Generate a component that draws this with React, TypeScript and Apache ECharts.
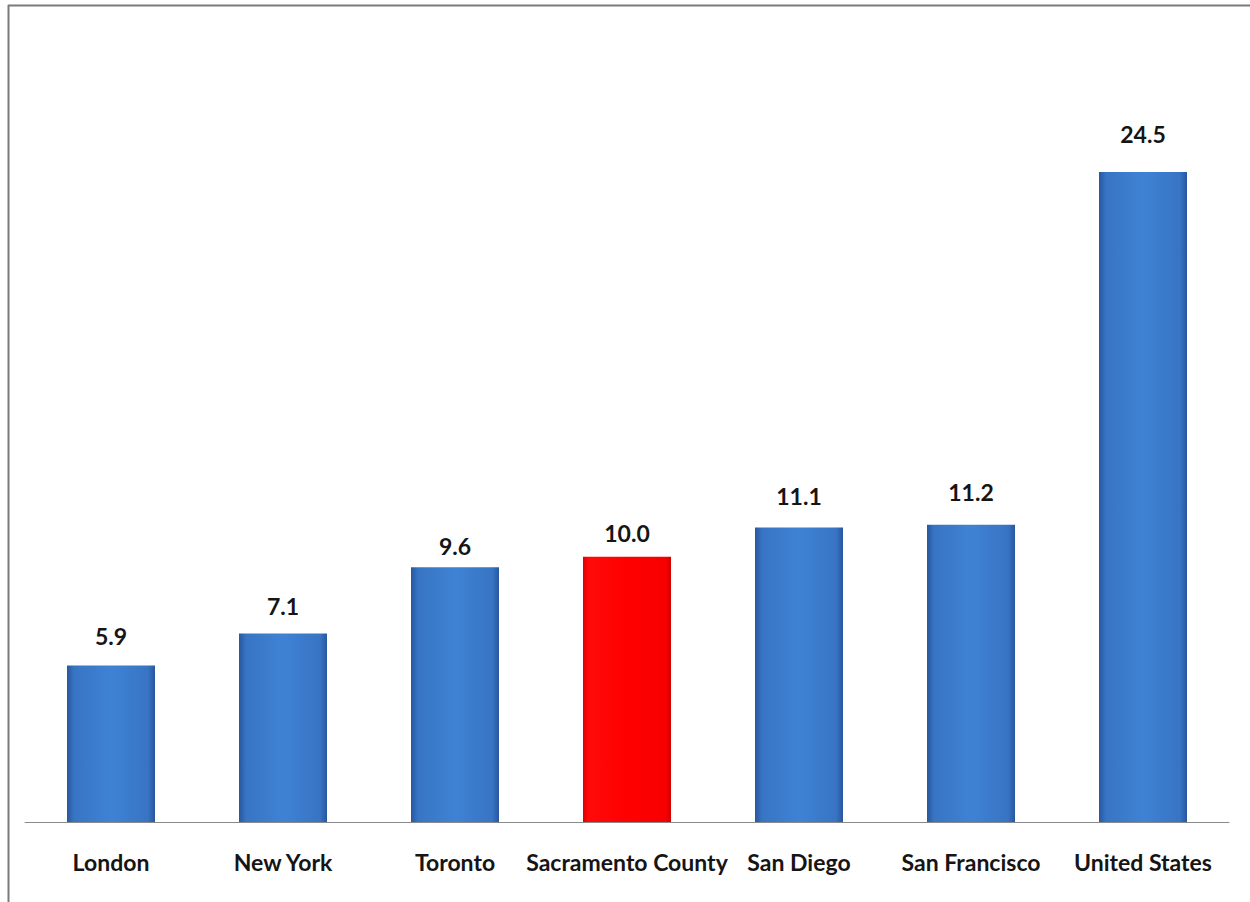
import React, { useEffect, useRef } from "react";
import * as echarts from "echarts";

const categories = ["London", "New York", "Toronto", "Sacramento County", "San Diego", "San Francisco", "United States"];
const values = [5.9, 7.1, 9.6, 10.0, 11.1, 11.2, 24.5];
const highlightCategory = "Sacramento County";

// layout only: gap (px) between each bar top and its value label, as placed in the original
const labelGaps = [18, 16, 10, 12, 20, 21, 26];

const blueFill = new echarts.graphic.LinearGradient(0, 0, 1, 0, [
  { offset: 0, color: "#28579f" },
  { offset: 0.08, color: "#3874c4" },
  { offset: 0.5, color: "#3f82d4" },
  { offset: 0.92, color: "#3874c4" },
  { offset: 1, color: "#28579f" },
]);
const redFill = new echarts.graphic.LinearGradient(0, 0, 1, 0, [
  { offset: 0, color: "#e00000" },
  { offset: 0.06, color: "#ff0a0a" },
  { offset: 0.5, color: "#ff0000" },
  { offset: 0.94, color: "#f80000" },
  { offset: 1, color: "#d00000" },
]);

export default function App() {
  const ref = useRef<HTMLDivElement>(null);
  useEffect(() => {
    if (!ref.current) return;
    const chart = echarts.init(ref.current, undefined, { renderer: "svg" });
    chart.setOption({
      animation: false,
      backgroundColor: "#ffffff",
      grid: { left: 25, right: 21, top: 26, bottom: 80 },
      xAxis: {
        type: "category",
        data: categories,
        axisLine: { show: true, lineStyle: { color: "#8a8a8a", width: 1 } },
        axisTick: { show: false },
        axisLabel: {
          interval: 0,
          margin: 28,
          fontFamily: "Lato",
          fontWeight: "bold",
          fontSize: 23,
          color: "#151515",
        },
      },
      yAxis: { type: "value", min: 0, max: 30, show: false, splitLine: { show: false } },
      series: [
        {
          type: "bar",
          barWidth: 88,
          data: values.map((v, i) => ({
            value: v,
            itemStyle: { color: categories[i] === highlightCategory ? redFill : blueFill },
            label: { distance: labelGaps[i] },
          })),
          label: {
            show: true,
            position: "top",
            formatter: (p: any) => Number(p.value).toFixed(1),
            fontFamily: "Lato",
            fontWeight: "bold",
            fontSize: 23,
            color: "#151515",
          },
        },
      ],
      graphic: [
        { type: "line", shape: { x1: 8, y1: 5.5, x2: 1250, y2: 5.5 }, style: { stroke: "#7a7a7a", lineWidth: 2 } },
        { type: "line", shape: { x1: 8.5, y1: 5, x2: 8.5, y2: 902 }, style: { stroke: "#7a7a7a", lineWidth: 2 } },
      ],
    });
    return () => chart.dispose();
  }, []);
  return <div ref={ref} style={{ position: "fixed", left: 0, top: 0, width: 1250, height: 902 }} />;
}
